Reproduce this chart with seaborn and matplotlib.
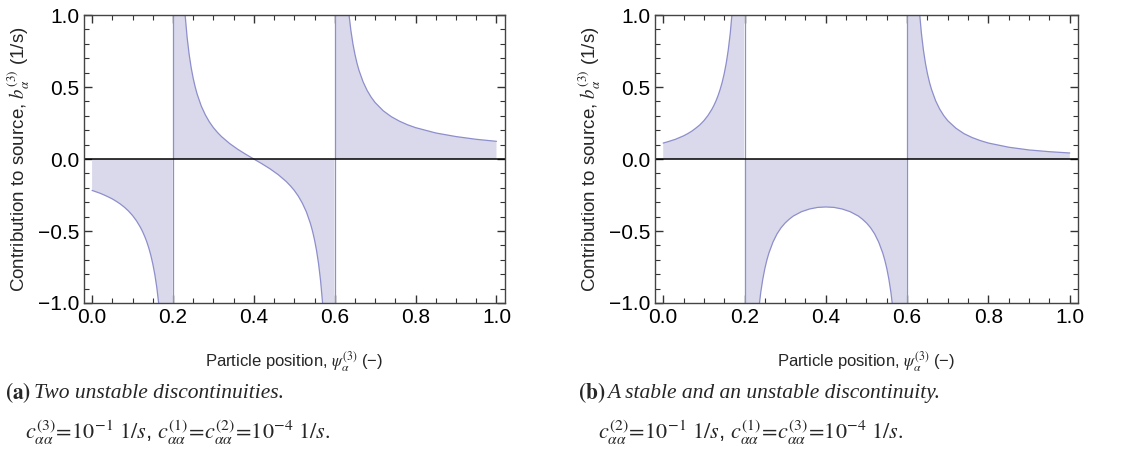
import matplotlib
matplotlib.use('Agg')
import matplotlib.pyplot as plt
import seaborn as sns
from matplotlib.ticker import MultipleLocator, FuncFormatter

x_left = [0.0, 0.01, 0.02, 0.03, 0.04, 0.05, 0.06, 0.07, 0.08, 0.09,
          0.10, 0.11, 0.12, 0.125, 0.13, 0.135, 0.14, 0.145, 0.15, 0.155,
          0.16, 0.165, 0.17, 0.175, 0.18, 0.19, 0.199]
x_mid = [0.201, 0.21, 0.22, 0.225, 0.23, 0.235, 0.24, 0.245, 0.25, 0.255, 0.26, 0.27, 0.28, 0.29,
         0.30, 0.31, 0.32, 0.34, 0.36, 0.38, 0.40,
         0.42, 0.44, 0.46, 0.48, 0.49, 0.50, 0.51, 0.52, 0.53, 0.54, 0.545, 0.55, 0.555, 0.56,
         0.565, 0.57, 0.575, 0.58, 0.59, 0.599]
x_right = [0.601, 0.61, 0.62, 0.625, 0.63, 0.635, 0.64, 0.645, 0.65, 0.655,
           0.66, 0.67, 0.68, 0.69, 0.70, 0.72, 0.74, 0.76, 0.78, 0.80,
           0.85, 0.90, 0.95, 1.0]

# (a) two unstable discontinuities
a_left = [-0.218, -0.228, -0.238, -0.250, -0.263, -0.277, -0.294, -0.313, -0.335, -0.361,
          -0.392, -0.430, -0.477, -0.505, -0.537, -0.573, -0.616, -0.666, -0.727, -0.800,
          -0.892, -1.01, -1.166, -1.385, -1.713, -3.35, -32.78]
a_mid = [32.62, 3.186, 1.549, 1.221, 1.002, 0.845, 0.727, 0.635, 0.561, 0.500, 0.449, 0.368, 0.307, 0.258,
         0.218, 0.185, 0.156, 0.108, 0.068, 0.033, 0.0,
         -0.033, -0.068, -0.108, -0.156, -0.185, -0.218, -0.258, -0.307, -0.368, -0.449, -0.500, -0.561,
         -0.635, -0.727, -0.845, -1.002, -1.221, -1.549, -3.186, -32.62]
a_right = [32.78, 3.35, 1.713, 1.385, 1.166, 1.01, 0.892, 0.800, 0.727, 0.666,
           0.616, 0.537, 0.477, 0.430, 0.392, 0.335, 0.294, 0.263, 0.238, 0.218,
           0.181, 0.156, 0.137, 0.123]

# (b) a stable and an unstable discontinuity
b_left = [0.111, 0.119, 0.128, 0.137, 0.149, 0.161, 0.176, 0.193, 0.214, 0.237,
          0.266, 0.302, 0.347, 0.374, 0.405, 0.441, 0.483, 0.532, 0.592, 0.665,
          0.757, 0.875, 1.033, 1.254, 1.585, 3.249, 33.22]
b_mid = [-33.38, -3.415, -1.753, -1.421, -1.2, -1.043, -0.925, -0.834, -0.761, -0.702, -0.653, -0.577,
         -0.520, -0.477, -0.444, -0.418, -0.396, -0.366, -0.347, -0.336, -0.333,
         -0.336, -0.347, -0.366, -0.396, -0.418, -0.444, -0.477, -0.520, -0.577, -0.653, -0.702, -0.761,
         -0.834, -0.925, -1.043, -1.2, -1.421, -1.753, -3.415, -33.38]
b_right = [33.22, 3.249, 1.586, 1.254, 1.033, 0.875, 0.757, 0.665, 0.592, 0.532,
           0.483, 0.405, 0.347, 0.302, 0.266, 0.214, 0.176, 0.149, 0.128, 0.111,
           0.082, 0.063, 0.051, 0.042]

jumps = [0.2, 0.6]

captions = [
    (r'$\mathbf{(a)}$', 'Two unstable discontinuities.',
     r'$c^{(3)}_{\alpha\alpha}\!=\!10^{-1}\ 1/s$, $c^{(1)}_{\alpha\alpha}\!=\!c^{(2)}_{\alpha\alpha}\!=\!10^{-4}\ 1/s.$'),
    (r'$\mathbf{(b)}$', 'A stable and an unstable discontinuity.',
     r'$c^{(2)}_{\alpha\alpha}\!=\!10^{-1}\ 1/s$, $c^{(1)}_{\alpha\alpha}\!=\!c^{(3)}_{\alpha\alpha}\!=\!10^{-4}\ 1/s.$'),
]

sns.set_theme(style='ticks')
plt.rcParams['font.family'] = ['Liberation Sans', 'DejaVu Sans']
plt.rcParams['mathtext.fontset'] = 'stix'

line_c = '#8e8ecc'
fill_c = '#d9d9eb'

fmt = FuncFormatter(lambda v, p: ('%.1f' % v).replace('-', '\u2212'))

fig = plt.figure(figsize=(11.46, 4.57), dpi=100)
ax_a = fig.add_axes([0.0733, 0.337, 0.367, 0.630])
ax_b = fig.add_axes([0.5716, 0.337, 0.369, 0.630])

panels = [
    (ax_a, [(x_left, a_left), (x_mid, a_mid), (x_right, a_right)]),
    (ax_b, [(x_left, b_left), (x_mid, b_mid), (x_right, b_right)]),
]

for ax, segs in panels:
    for xs, ys in segs:
        ax.fill_between(xs, ys, 0, color=fill_c, linewidth=0)
        sns.lineplot(x=xs, y=ys, ax=ax, color=line_c, linewidth=0.9, sort=False)
    ax.vlines(jumps, -1, 1, color=line_c, linewidth=0.9)
    ax.axhline(0, color='black', linewidth=1.1)
    ax.set_xlim(-0.02, 1.02)
    ax.set_ylim(-1, 1)
    ax.xaxis.set_major_locator(MultipleLocator(0.2))
    ax.xaxis.set_minor_locator(MultipleLocator(0.05))
    ax.yaxis.set_major_locator(MultipleLocator(0.5))
    ax.yaxis.set_minor_locator(MultipleLocator(0.1))
    ax.xaxis.set_major_formatter(fmt)
    ax.yaxis.set_major_formatter(fmt)
    ax.tick_params(which='both', direction='in', top=True, right=True, colors='#333333',
                   labelcolor='black', labelsize=15)
    ax.tick_params(which='major', length=6, width=1)
    ax.tick_params(which='minor', length=3.5, width=0.8)
    for s in ax.spines.values():
        s.set_color('#444444')
        s.set_linewidth(1)
    ax.set_ylabel(r'Contribution to source, $b_\alpha^{(3)}$ (1/s)', fontsize=13.5, labelpad=4)
    ax.set_xlabel(r'Particle position, $\psi_\alpha^{(3)}$ (−)', fontsize=12, labelpad=16)

for (tag, title, line2), x0 in zip(captions, [0.004, 0.504]):
    fig.text(x0, 0.14, tag, fontsize=15.5, va='center')
    fig.text(x0 + 0.026, 0.14, title, fontsize=15.5, style='italic',
             family=['Liberation Serif', 'DejaVu Serif'], va='center')
    fig.text(x0 + 0.018, 0.052, line2, fontsize=16, va='center')

fig.savefig('out.png', dpi=100)
